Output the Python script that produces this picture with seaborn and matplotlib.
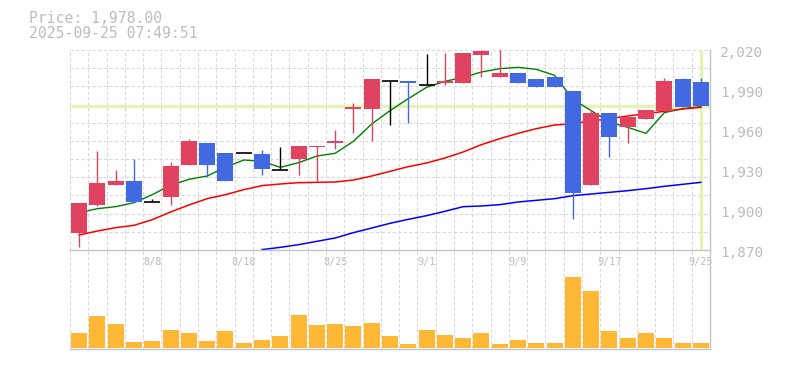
import numpy as np
import pandas as pd
import matplotlib
matplotlib.use('Agg')
import matplotlib.pyplot as plt
import matplotlib.transforms as mtrans
import seaborn as sns

# daily candles (35 trading days)
day_labels = ['', '', '', '', '8/8', '', '', '', '', '8/18',
              '', '', '', '', '8/25', '', '', '', '', '9/1',
              '', '', '', '', '9/9', '', '', '', '', '9/17',
              '', '', '', '', '9/25']
opens = [1883, 1904, 1919, 1922, 1906, 1910, 1934, 1950, 1943, 1943,
         1942, 1930, 1938, 1947, 1950, 1976, 1976, 1997, 1997, 1994,
         1995, 1995, 2016, 2000, 2003, 1998, 2000, 1989, 1919, 1973,
         1962, 1968, 1974, 1998, 1996]
highs = [1905, 1944, 1930, 1938, 1908, 1936, 1953, 1950, 1943, 1943,
         1945, 1947, 1948, 1948, 1960, 1980, 1998, 1997, 1997, 2017,
         2018, 2018, 2020, 2022, 2003, 1998, 2000, 1989, 1975, 1973,
         1970, 1975, 1999, 1999, 1999]
lows = [1872, 1903, 1919, 1906, 1906, 1904, 1934, 1925, 1922, 1943,
        1926, 1930, 1926, 1921, 1946, 1958, 1952, 1964, 1965, 1994,
        1994, 1995, 2000, 2000, 1995, 1992, 1992, 1893, 1919, 1940,
        1950, 1968, 1974, 1977, 1978]
closes = [1905, 1920, 1922, 1906, 1906, 1933, 1952, 1934, 1922, 1943,
          1931, 1930, 1948, 1948, 1952, 1977, 1998, 1997, 1995, 1994,
          1997, 2018, 2019, 2003, 1995, 1992, 1992, 1913, 1973, 1955,
          1970, 1975, 1997, 1977, 1978]
volume = [15000, 31700, 24000, 6000, 7000, 18000, 15000, 7000, 17000, 5000,
          8000, 12000, 33000, 23000, 24000, 22000, 25000, 12000, 4000, 18000,
          13000, 10000, 15000, 4000, 8000, 5000, 5000, 71000, 57000, 17000,
          10000, 15000, 10000, 5000, 5000]
ma5 = [1898, 1901, 1902.5, 1905.5, 1911.5, 1918.5, 1923, 1925.5, 1932, 1937.5,
       1936.5, 1932, 1935.5, 1940.5, 1942.5, 1951.5, 1964.5, 1974.5, 1983.5, 1992,
       1996.5, 1999.5, 2003.5, 2006, 2007, 2005.5, 2001, 1983, 1974.5, 1966,
       1962, 1957.5, 1973, 1976, 1977.5]
ma25 = [1881.25, 1884.25, 1886.75, 1888.5, 1892.75, 1898.5, 1903.75, 1908.5, 1911.5, 1915.25,
        1918.25, 1919.5, 1920.5, 1920.75, 1921, 1922.5, 1925.5, 1929, 1932.5, 1935.25,
        1939, 1943.5, 1949, 1953.5, 1957.5, 1961, 1963.75, 1964.75, 1966.75, 1968.5,
        1970.5, 1972.25, 1974, 1975.75, 1977]
ma75 = [np.nan] * 10 + [1870.3, 1872, 1874, 1876.5, 1879, 1883, 1886.5, 1890, 1893, 1895.75,
                        1899, 1902.5, 1903, 1904, 1906, 1907.25, 1908.5, 1910.75, 1912, 1913.25,
                        1914.5, 1916, 1917.75, 1919.25, 1920.75]
price_ticks = [1870, 1900, 1930, 1960, 1990, 2020]
last_price = 1978.00
stamp = '2025-09-25 07:49:51'

plt.rcParams['font.family'] = ['DejaVu Sans Mono']
txt_col = '#bdbdbd'

df = pd.DataFrame({'x': np.arange(len(opens)), 'open': opens, 'high': highs,
                   'low': lows, 'close': closes, 'vol': volume,
                   'ma5': ma5, 'ma25': ma25, 'ma75': ma75})
n = len(df)

W, H = 785, 370
fig = plt.figure(figsize=(W / 100, H / 100), dpi=100)
ax = fig.add_axes([70 / W, 120 / H, 640 / W, 200 / H])
axv = fig.add_axes([70 / W, 21 / H, 640 / W, 99 / H])

# grid
grid_kw = dict(color='#d9d9d9', lw=0.8, ls=(0, (3, 2)), zorder=0)
for gx in np.arange(-0.5, n, 1.0):
    ax.axvline(gx, **grid_kw)
    axv.axvline(gx, **grid_kw)
for gy in np.linspace(1870, 2020, 12):
    ax.axhline(gy, **grid_kw)

# current price markers
ax.axhline(last_price, color='#e3f4b2', lw=2.3, zorder=1)
ax.axvline(df['x'].iloc[-1], ymin=0.01, ymax=0.99, color='#e3f4b2', lw=2.3, zorder=1)

# moving averages
sns.lineplot(data=df, x='x', y='ma5', color='#008000', lw=1.0, ax=ax, zorder=2)
sns.lineplot(data=df, x='x', y='ma25', color='#ff0000', lw=1.1, ax=ax, zorder=2)
sns.lineplot(data=df, x='x', y='ma75', color='#0000ff', lw=1.1, ax=ax, zorder=2)

# candles
up_col, down_col = '#e0435f', '#4169e1'
o = df['open'].to_numpy(float)
c = df['close'].to_numpy(float)
x = df['x'].to_numpy()
flat = o == c
cols = np.where(c > o, up_col, np.where(c < o, down_col, 'black'))
ax.vlines(x, df['low'], df['high'], colors=cols, lw=1.0, zorder=3)
ax.bar(x[~flat], np.abs(c - o)[~flat], bottom=np.minimum(o, c)[~flat],
       width=0.87, color=cols[~flat], lw=0, zorder=4)
ax.hlines(c[flat], x[flat] - 0.435, x[flat] + 0.435, colors='black', lw=1.2, zorder=4)

ax.set_xlim(-0.5, n - 0.5)
ax.set_ylim(1870, 2020)

# volume
sns.barplot(data=df, x='x', y='vol', color='#ffb835', saturation=1, width=0.87,
            native_scale=True, errorbar=None, ax=axv, zorder=2)
axv.set_xlim(-0.5, n - 0.5)
axv.set_ylim(-1400, 97600)

for a in (ax, axv):
    a.set_xticks([])
    a.set_yticks([])
    a.set_xlabel('')
    a.set_ylabel('')
    a.spines['top'].set_visible(False)
    a.spines['left'].set_visible(False)
    for s in ('right', 'bottom'):
        a.spines[s].set_color('#c4c4c4')
        a.spines[s].set_linewidth(1.0)
    a.patch.set_alpha(0)

# right price labels
tr = mtrans.offset_copy(ax.get_yaxis_transform(), fig=fig, x=10, y=-3, units='dots')
for v in price_ticks:
    ax.text(1.0, v, f'{v:,}', transform=tr, ha='left', va='center',
            fontsize=10.4, color=txt_col, clip_on=False)

# date labels
for i, lab in enumerate(day_labels):
    if lab:
        axv.text(i, 0.874, lab, transform=axv.get_xaxis_transform(),
                 ha='center', va='center', fontsize=7.3, color=txt_col)

fig.text(29 / W, 1 - 23.2 / H, f'Price: {last_price:,.2f}', ha='left', va='baseline',
         fontsize=10.6, color=txt_col)
fig.text(29 / W, 1 - 38.5 / H, stamp, ha='left', va='baseline',
         fontsize=10.6, color=txt_col)

fig.savefig('out.png', dpi=100)
